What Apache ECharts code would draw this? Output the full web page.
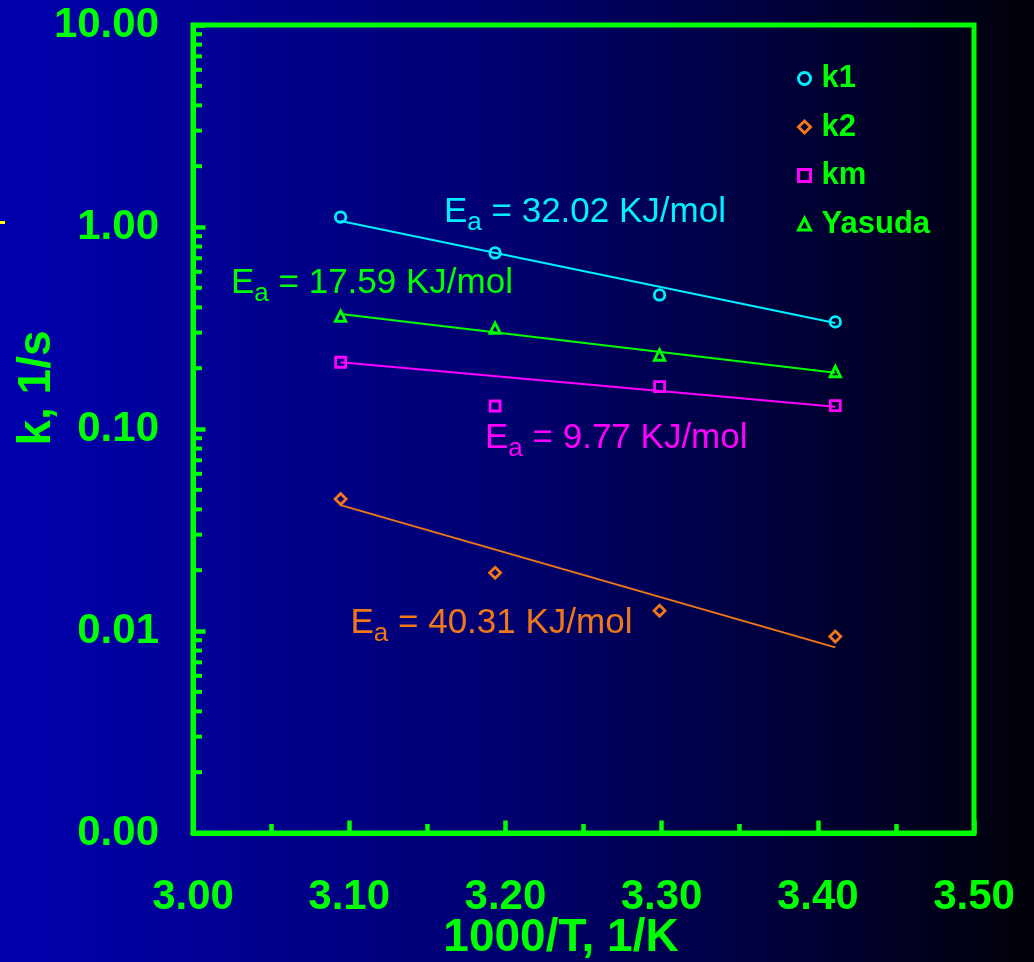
<!DOCTYPE html>
<html>
<head>
<meta charset="utf-8">
<script src="https://cdn.jsdelivr.net/npm/echarts@6/dist/echarts.min.js"></script>
<style>
  html, body { margin: 0; padding: 0; }
  #chart {
    width: 1034px; height: 962px;
    background: linear-gradient(to right, #0000ae 0%, #00006e 50%, #000008 100%);
  }
</style>
</head>
<body>
<div id="chart"></div>
<script>
// Reciprocal temperature, 1000/T (1/K), for 50, 40, 30 and 20 °C
const invT = [3.0945, 3.1934, 3.2987, 3.4112];

// Rate constants, 1/s
const k1     = [1.12, 0.744, 0.461, 0.339];
const k2     = [0.045, 0.0194, 0.0126, 0.0094];
const km     = [0.214, 0.130, 0.162, 0.1305];
const yasuda = [0.3625, 0.316, 0.2325, 0.1926];

// Arrhenius fit lines, value at the first and last temperature
const fitK1     = [1.07, 0.335];
const fitK2     = [0.042, 0.0083];
const fitKm     = [0.214, 0.129];
const fitYasuda = [0.371, 0.19];

// Activation energies, KJ/mol
const eaK1 = '32.02', eaYasuda = '17.59', eaKm = '9.77', eaK2 = '40.31';

// Axis ranges and ticks
const xMin = 3.0, xMax = 3.5, xStep = 0.1;
const yMin = 0.001, yMax = 10;
const decades = [0.001, 0.01, 0.1, 1];
const multiples = [2, 3, 4, 5, 6, 7, 8, 9];

const GREEN = '#00ff00';
const CYAN = '#00f0ff';
const ORANGE = '#f07818';
const MAGENTA = '#ff00ff';
const FONT = '"Liberation Sans", Arial, sans-serif';

const minorLogTicks = [];
decades.forEach(d => multiples.forEach(m => minorLogTicks.push(+(d * m).toPrecision(3))));

const pts = (ys) => ys.map((y, i) => [invT[i], y]);
const fitPts = (f) => [[invT[0], f[0]], [invT[invT.length - 1], f[1]]];

const measureCtx = document.createElement('canvas').getContext('2d');
function textWidth(s, size) {
  measureCtx.font = size + 'px ' + FONT;
  return measureCtx.measureText(s).width;
}

// "E_a = ... KJ/mol" annotation; x = left of text, baseline = alphabetic baseline
function eaLabel(x, baseline, color, value) {
  const main = 35, sub = 26;
  const wE = textWidth('E', main), wa = textWidth('a', sub);
  const txt = (tx, ty, s, size) => ({
    type: 'text', x: tx, y: ty, z: 50,
    style: { text: s, fontSize: size, fontFamily: FONT, fill: color, verticalAlign: 'middle', align: 'left' }
  });
  return {
    type: 'group',
    children: [
      txt(x, baseline - 0.3465 * main, 'E', main),
      txt(x + wE, baseline + 7.5 - 0.3465 * sub, 'a', sub),
      txt(x + wE + wa, baseline - 0.3465 * main, ' = ' + value + ' KJ/mol', main)
    ]
  };
}

function scatter(name, data, symbol, size, color) {
  return {
    name, type: 'scatter', data: pts(data), symbol, symbolSize: size,
    symbolKeepAspect: true, z: 10,
    itemStyle: { color: 'transparent', borderColor: color, borderWidth: 2.8, opacity: 1 },
    emphasis: { disabled: true }
  };
}
function fitLine(name, f, color) {
  return {
    name, type: 'line', data: fitPts(f), showSymbol: false, symbol: 'none', z: 5,
    lineStyle: { color, width: 2 }, emphasis: { disabled: true }, silent: true
  };
}

const chart = echarts.init(document.getElementById('chart'), null, { renderer: 'canvas' });

chart.setOption({
  animation: false,
  backgroundColor: 'transparent',
  grid: {
    left: 193, right: 60, top: 25, bottom: 129,
    show: true, borderColor: GREEN, borderWidth: 5, backgroundColor: 'transparent'
  },
  legend: {
    data: ['k1', 'k2', 'km', 'Yasuda'],
    orient: 'vertical',
    left: 792, top: 58,
    itemWidth: 12, itemHeight: 12, itemGap: 17.5,
    symbolKeepAspect: true,
    itemStyle: { borderWidth: 3 },
    textStyle: { color: GREEN, fontSize: 31, fontWeight: 'bold', fontFamily: FONT, padding: [0, 0, 0, 6] },
    selectedMode: false
  },
  xAxis: {
    type: 'value', min: xMin, max: xMax, interval: xStep,
    axisLine: { show: true, onZero: false, lineStyle: { color: GREEN, width: 5 } },
    axisTick: { show: true, inside: true, length: 12.5, lineStyle: { color: GREEN, width: 4.5 } },
    minorTick: { show: true, splitNumber: 2, length: 9, lineStyle: { color: GREEN, width: 4.5 } },
    splitLine: { show: false },
    axisLabel: {
      color: GREEN, fontSize: 42, fontWeight: 'bold', fontFamily: FONT, margin: 43,
      formatter: v => v.toFixed(2)
    }
  },
  yAxis: {
    type: 'log', logBase: 10, min: yMin, max: yMax,
    axisLine: { show: true, onZero: false, lineStyle: { color: GREEN, width: 5 } },
    axisTick: { show: true, inside: true, length: 12.5, lineStyle: { color: GREEN, width: 4.5 } },
    minorTick: { show: false },
    splitLine: { show: false },
    axisLabel: {
      color: GREEN, fontSize: 42, fontWeight: 'bold', fontFamily: FONT, margin: 34,
      formatter: v => v.toFixed(2)
    }
  },
  series: [
    fitLine('k1 fit', fitK1, CYAN),
    fitLine('Yasuda fit', fitYasuda, GREEN),
    fitLine('km fit', fitKm, MAGENTA),
    fitLine('k2 fit', fitK2, ORANGE),
    scatter('k1', k1, 'circle', 10.5, CYAN),
    scatter('k2', k2, 'diamond', 11, ORANGE),
    scatter('km', km, 'rect', 10, MAGENTA),
    scatter('Yasuda', yasuda, 'triangle', 10.5, GREEN),
    {
      // log-scale minor ticks on the y axis (2..9 within each decade)
      name: 'y minor ticks', type: 'custom', coordinateSystem: 'cartesian2d',
      silent: true, clip: false, z: 6,
      data: minorLogTicks.map(v => [xMin, v]),
      renderItem: (params, api) => {
        const p = api.coord([api.value(0), api.value(1)]);
        return {
          type: 'line',
          shape: { x1: p[0], y1: p[1], x2: p[0] + 9, y2: p[1] },
          style: { stroke: GREEN, lineWidth: 4 }
        };
      }
    }
  ],
  graphic: [
    { type: 'rect', shape: { x: 0, y: 221, width: 5, height: 3 }, style: { fill: '#ffff00' } },
    {
      type: 'text', x: 561, y: 938, z: 50,
      style: { text: '1000/T, 1/K', fontSize: 46, fontWeight: 'bold', fontFamily: FONT, fill: GREEN, align: 'center', verticalAlign: 'middle' }
    },
    {
      type: 'text', x: 37, y: 388, rotation: Math.PI / 2, z: 50,
      style: { text: 'k, 1/s', fontSize: 46, fontWeight: 'bold', fontFamily: FONT, fill: GREEN, align: 'center', verticalAlign: 'middle' }
    },
    eaLabel(444, 224, CYAN, eaK1),
    eaLabel(231, 295.5, GREEN, eaYasuda),
    eaLabel(485, 450, MAGENTA, eaKm),
    eaLabel(350.5, 635.5, ORANGE, eaK2)
  ]
});
</script>
</body>
</html>
